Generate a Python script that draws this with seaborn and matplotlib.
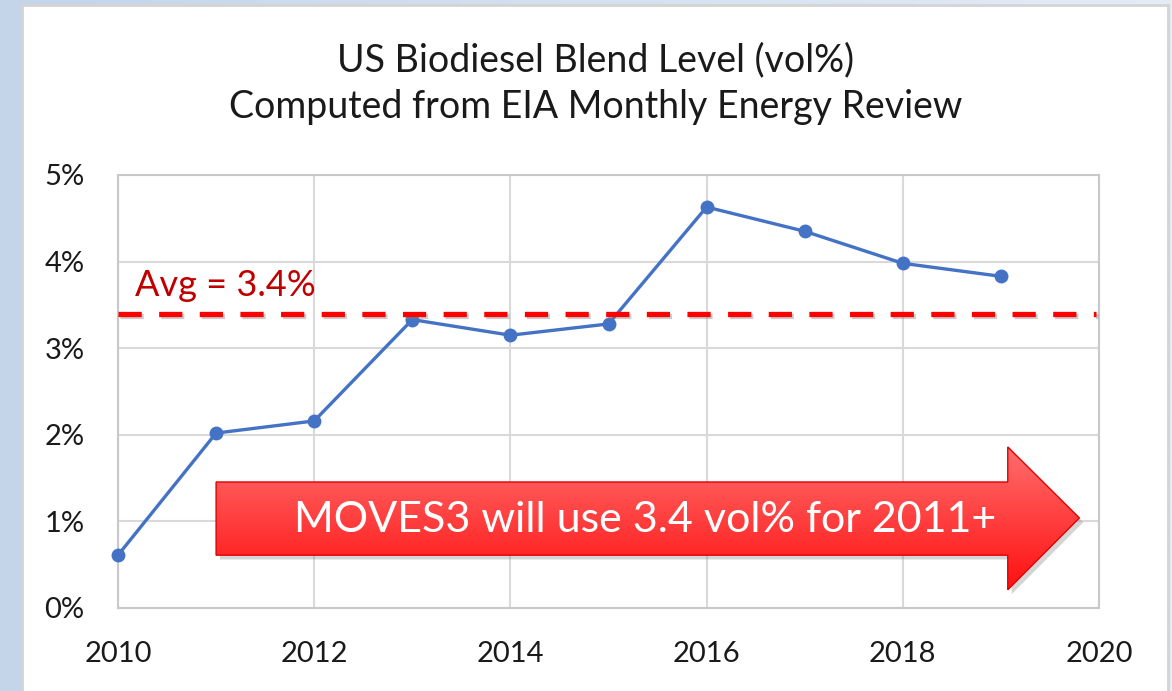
import numpy as np
import pandas as pd
import matplotlib
matplotlib.use("Agg")
import matplotlib.pyplot as plt
import matplotlib.patheffects as pe
from matplotlib.patches import Rectangle, Polygon
from matplotlib.ticker import PercentFormatter
import seaborn as sns

# data
years = [2010, 2011, 2012, 2013, 2014, 2015, 2016, 2017, 2018, 2019]
blend_pct = [0.61, 2.02, 2.16, 3.33, 3.15, 3.28, 4.63, 4.35, 3.98, 3.83]
avg_pct = 3.4
title_lines = ["US Biodiesel Blend Level (vol%)", "Computed from EIA Monthly Energy Review"]
avg_label = "Avg = 3.4%"
arrow_label = "MOVES3 will use 3.4 vol% for 2011+"

df = pd.DataFrame({"year": years, "blend": blend_pct})

sns.set_style("white")
plt.rcParams["font.family"] = ["Lato", "DejaVu Sans"]

fig = plt.figure(figsize=(11.72, 6.91), dpi=100)

# slide-like background: blue gradient + white panel
bg = fig.add_axes([0, 0, 1, 1], zorder=-10)
grad = np.linspace(0, 1, 256)[None, :] * np.ones((256, 1))
bg.imshow(grad, cmap=matplotlib.colors.LinearSegmentedColormap.from_list(
    "bg", ["#c4d5ea", "#e4ecf6"]), aspect="auto", extent=[0, 1, 0, 1])
bg.add_patch(Rectangle((22 / 1172, -0.01), (1168 - 22) / 1172, 1 - 5 / 691 + 0.01,
                       facecolor="white", edgecolor="#d4d4d4", lw=2))
bg.set_xlim(0, 1)
bg.set_ylim(0, 1)
bg.axis("off")

ax = fig.add_axes([118 / 1172, 1 - 608 / 691, (1099 - 118) / 1172, (608 - 175) / 691])
ax.set_facecolor("none")

sns.lineplot(data=df, x="year", y="blend", ax=ax, color="#4472c4", lw=2.4,
             marker="o", markersize=10, markeredgewidth=0, zorder=3, clip_on=False)

# average line with a soft shadow
ax.axhline(avg_pct, xmin=0, xmax=0.997, color="#ff0000", lw=3.8, ls=(0, (4.4, 3.3)),
           zorder=4, path_effects=[pe.SimpleLineShadow(offset=(1.5, -1.5), shadow_color="gray", alpha=0.4),
                                   pe.Normal()])
ax.text(2010.17, 3.53, avg_label, color="#c00000", fontsize=26, va="bottom", ha="left")

# red gradient arrow
arrow_pts = [(2011.0, 1.455), (2019.07, 1.455), (2019.07, 1.86), (2019.8, 1.04),
             (2019.07, 0.21), (2019.07, 0.61), (2011.0, 0.61)]
shadow = Polygon([(x + 0.04, y - 0.05) for x, y in arrow_pts], closed=True,
                 facecolor="#888888", alpha=0.35, edgecolor="none", zorder=4)
ax.add_patch(shadow)
arrow = Polygon(arrow_pts, closed=True, facecolor="none", edgecolor="#e00000", lw=1, zorder=6)
ax.add_patch(arrow)
red_grad = np.linspace(1, 0, 256)[:, None] * np.ones((1, 2))
img = ax.imshow(red_grad, cmap=matplotlib.colors.LinearSegmentedColormap.from_list(
    "red", ["#ff1010", "#ff6e6e"]), aspect="auto", extent=[2011.0, 2019.8, 0.21, 1.86],
    zorder=5, interpolation="bicubic")
img.set_clip_path(arrow)
ax.text(2015.37, 1.02, arrow_label, color="white", fontsize=31, ha="center", va="center", zorder=7)

ax.set_xlim(2010, 2020)
ax.set_ylim(0, 5)
ax.set_xticks(range(2010, 2021, 2))
ax.set_yticks(range(0, 6))
ax.yaxis.set_major_formatter(PercentFormatter(decimals=0))
ax.set_xlabel("")
ax.set_ylabel("")
ax.tick_params(labelsize=21, colors="#1a1a1a", length=0)
ax.tick_params(axis="x", pad=24)
ax.tick_params(axis="y", pad=24)
ax.grid(True, color="#d9d9d9", lw=1.5)
for s in ax.spines.values():
    s.set_color("#c8c8c8")
    s.set_linewidth(1.5)

fig.text(0.508, 1 - 60 / 691, title_lines[0], ha="center", va="center", fontsize=27, color="#1a1a1a")
fig.text(0.508, 1 - 107 / 691, title_lines[1], ha="center", va="center", fontsize=27, color="#1a1a1a")

fig.savefig("out.png", dpi=100)
